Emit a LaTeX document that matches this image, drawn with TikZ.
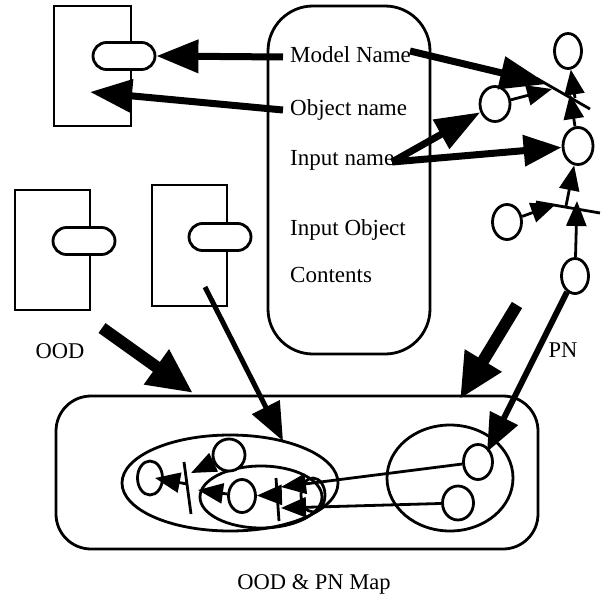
\documentclass[tikz,border=0pt]{standalone}
\usepackage{fontspec}
\setmainfont{Liberation Serif}
\usetikzlibrary{arrows.meta,shapes.geometric,shapes.misc}
\begin{document}
\begin{tikzpicture}[x=1pt,y=-1pt,
  lbl/.style={font=\fontsize{23}{27}\selectfont, inner sep=0pt, anchor=base west},
  caplbl/.style={font=\fontsize{22.5}{26}\selectfont, inner sep=0pt, anchor=base},
  place/.style={draw, line width=2.8pt, ellipse, minimum width=27pt, minimum height=34pt, inner sep=0pt, fill=white},
  pill/.style={draw, line width=2.8pt, rounded rectangle, minimum width=62pt, minimum height=27pt, fill=white, inner sep=0pt},
  boxr/.style={draw, line width=2.8pt, inner sep=0pt},
  oval/.style={draw, line width=2.8pt, ellipse, inner sep=0pt},
  bigarr/.style={line width=7pt, -{Triangle[length=42pt,width=32pt]}},
  hugearr/.style={line width=12pt, -{Triangle[length=45pt,width=40pt]}},
  medarr/.style={line width=5pt, -{Triangle[length=38pt,width=30pt]}},
  arcarr/.style={line width=2.8pt, -{Triangle[length=25pt,width=20pt]}},
  tbar/.style={line width=2.8pt},
]
\useasboundingbox (0,0) rectangle (605,605);

% ---- top-left OOD box ----
\node[boxr, minimum width=77pt, minimum height=120pt] (b1) at (92.5,66) {};
\node[pill] (p1) at (124,56) {};

% ---- lower OOD boxes ----
\node[boxr, minimum width=75pt, minimum height=120pt] (bA) at (52.5,250) {};
\node[pill] (pA) at (84,241) {};
\node[boxr, minimum width=75pt, minimum height=121pt] (bB) at (189.5,245.5) {};
\node[pill] (pB) at (220,237) {};

% ---- central record ----
\node[boxr, rounded corners=45pt, minimum width=162pt, minimum height=348pt] (rec) at (349,180) {};
\node[lbl] (mn) at (290,62) {Model Name};
\node[lbl] (on) at (290,115) {Object name};
\node[lbl] (in) at (290,165) {Input name};
\node[lbl] (io) at (290,235) {Input Object};
\node[lbl] (ct) at (290,282) {Contents};

% ---- PN (top right) ----
\node[place, minimum width=27pt, minimum height=35pt] (P1) at (568,51) {};
\node[place, minimum width=30pt, minimum height=35pt] (P2) at (495,104) {};
\node[place, minimum width=30pt, minimum height=37pt] (P3) at (578,146) {};
\node[place, minimum width=29pt, minimum height=35pt] (P4) at (507,222) {};
\node[place, minimum width=27pt, minimum height=35pt] (P5) at (575,276) {};

% ---- labels ----
\node[caplbl] (lood) at (60,358) {OOD};
\node[caplbl] (lpn) at (563,357) {PN};
\node[caplbl] (lmap) at (314,589) {OOD \& PN Map};

% ---- map container ----
\node[boxr, rounded corners=35pt, minimum width=482pt, minimum height=153pt] (map) at (297,472.5) {};
\node[oval, minimum width=216pt, minimum height=96pt] (E1) at (230,483) {};
\node[oval, minimum width=122pt, minimum height=62pt] (E2) at (261,497) {};
\node[oval, minimum width=126pt, minimum height=106pt] (E3) at (450,478) {};

\node[place, minimum width=25pt, minimum height=34pt] (c1) at (150,478) {};
\node[place, minimum width=32pt, minimum height=32pt] (c2) at (229,455) {};
\node[place, minimum width=27pt, minimum height=33pt] (c3) at (242,496) {};
\node[place, fill=none, minimum width=24pt, minimum height=34pt] (c4) at (313,495) {};
\node[place, minimum width=29pt, minimum height=35pt] (c5) at (478,462) {};
\node[place, minimum width=31pt, minimum height=34pt] (c6) at (458,503) {};

% ---- coordinates ----
\coordinate (mnL) at (283,57);
\coordinate (onL) at (283,110);
\coordinate (b1in) at (90,92);
\coordinate (mnR) at (410,51);
\coordinate (inR) at (392,162);
\coordinate (t1a) at (536,78);
\coordinate (t1b) at (590,109);
\coordinate (t1tip) at (548,84);
\coordinate (t1p2) at (552,89);
\coordinate (t1up) at (575,98);
\coordinate (t1dn) at (570,94);
\coordinate (t2a) at (536,202);
\coordinate (t2b) at (600,213);
\coordinate (t2p4) at (556,204);
\coordinate (t2up) at (566,206);
\coordinate (t2p5) at (577,201);
\coordinate (oodT) at (102,328);
\coordinate (mapA) at (193,393);
\coordinate (bBin) at (205,287);
\coordinate (e1top) at (283,441);
\coordinate (pnT) at (517,305);
\coordinate (mapB) at (460,399);
\coordinate (c5tip) at (487,452);
\coordinate (taA) at (276,478);
\coordinate (taB) at (279,521);
\coordinate (ta1) at (281,487);
\coordinate (ta2) at (281,508);
\coordinate (ta3) at (277,495);
\coordinate (tbA) at (184,462);
\coordinate (tbB) at (191,514);
\coordinate (tb1) at (198,490);
\coordinate (tb2) at (191,473);
\coordinate (tb3) at (187,484);
\coordinate (c1t) at (155,478);

% ---- top arrows ----
\draw[bigarr] (mnL) -- (p1.east);
\draw[bigarr] (onL) -- (b1in);
\draw[bigarr, -{Triangle[length=48pt,width=32pt]}] (mnR) -- (t1tip);
\draw[bigarr, -{Triangle[length=45pt,width=32pt]}] (inR) -- (P2);
\draw[bigarr, -{Triangle[length=38pt,width=30pt]}] (inR) -- (P3);

% ---- PN transitions & arcs ----
\draw[tbar] (t1a) -- (t1b);
\draw[tbar] (t2a) -- (t2b);
\draw[arcarr] (P2) -- (t1p2);
\draw[arcarr] (t1up) -- (P1);
\draw[arcarr] (P3) -- (t1dn);
\draw[arcarr] (P4) -- (t2p4);
\draw[arcarr] (t2up) -- (P3);
\draw[arcarr] (P5) -- (t2p5);

% ---- mapping arrows ----
\draw[hugearr] (oodT) -- (mapA);
\draw[medarr] (bBin) -- (e1top);
\draw[hugearr] (pnT) -- (mapB);
\draw[medarr, line width=6pt] (P5) -- (c5tip);

% ---- mapped net ----
\draw[tbar] (taA) -- (taB);
\draw[tbar] (tbA) -- (tbB);
\draw[arcarr] (c5) -- (ta1);
\draw[arcarr] (c6) -- (ta2);
\draw[arcarr] (ta3) -- (c3);
\draw[arcarr] (c3) -- (tb1);
\draw[arcarr] (c2) -- (tb2);
\draw[arcarr] (tb3) -- (c1t);
\end{tikzpicture}
\end{document}
